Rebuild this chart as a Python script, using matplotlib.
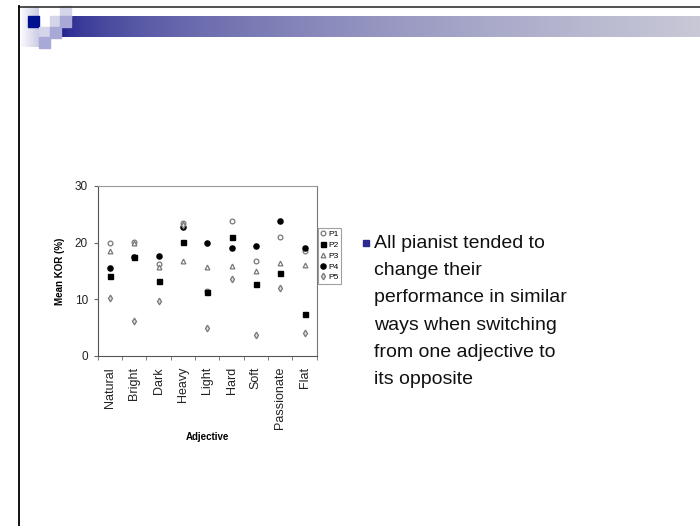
import matplotlib.pyplot as plt
import numpy as np

# data
adjectives = ['Natural', 'Bright', 'Dark', 'Heavy', 'Light', 'Hard', 'Soft', 'Passionate', 'Flat']
p1 = [19.9, 20.1, 16.3, 23.5, 11.5, 23.9, 16.7, 21.0, 18.5]
p2 = [14.2, 17.5, 13.3, 20.1, 11.3, 21.0, 12.7, 14.7, 7.4]
p3 = [18.6, 19.9, 15.7, 16.7, 15.7, 15.9, 15.0, 16.4, 16.1]
p4 = [15.6, 17.4, 17.6, 22.8, 19.9, 19.1, 19.5, 23.9, 19.1]
p5 = [10.3, 6.2, 9.7, 23.2, 4.9, 13.6, 3.7, 12.0, 4.0]
yticks = [0, 10, 20, 30]
bullet_lines = ['All pianist tended to', 'change their', 'performance in similar',
                'ways when switching', 'from one adjective to', 'its opposite']

W, H = 700, 526
fig = plt.figure(figsize=(W / 100, H / 100), dpi=100)
plt.rcParams['font.family'] = ['Liberation Sans', 'DejaVu Sans']

####### slide decoration #######
deco = fig.add_axes([0, 0, 1, 1], zorder=0)
deco.set_xlim(0, W)
deco.set_ylim(H, 0)
deco.axis('off')

# gradient bar
x0, x1 = 61, W
t = np.linspace(0, 1, 400) ** 0.5
c0 = np.array([28, 28, 140]) / 255
c1 = np.array([200, 200, 215]) / 255
grad = (c0[None, :] + t[:, None] * (c1 - c0)[None, :])[None, :, :]
deco.imshow(grad, extent=[x0, x1, 37, 16], aspect='auto', zorder=1)

# left pale block
t2 = np.linspace(0, 1, 50)
pale = (np.array([1, 1, 1])[None, :] + t2[:, None] * (np.array([0.80, 0.80, 0.90]) - 1)[None, :])[None, :, :]
deco.imshow(pale, extent=[19, 39, 47, 6], aspect='auto', zorder=1)

# little squares
light = '#D4D4EA'
mid = '#A9A9D8'
dark = '#001190'
squares = [(60, 6, light), (28, 16, dark), (50, 16, light), (60, 16, mid),
           (39, 27, light), (50, 27, mid), (39, 37, mid)]
for sx, sy, col in squares:
    deco.add_patch(plt.Rectangle((sx, sy), 10.7, 10.5, color=col, zorder=2))

deco.plot([19, W], [7, 7], color='#333333', lw=1.2, zorder=3)
deco.plot([19, 19], [6, H], color='black', lw=1.3, zorder=3)

# bullet text
deco.plot([366], [243], marker='s', ms=5, color='#2B2B8F', zorder=3)
for k, line in enumerate(bullet_lines):
    deco.text(374, 243 + 27.4 * k, line, fontsize=14, color='#111111',
              va='center', ha='left', family=['Liberation Sans', 'DejaVu Sans'])

####### scatter plot #######
ax = fig.add_axes([97.7 / W, (H - 356) / H, 219 / W, 170 / H], zorder=2)
xs = np.arange(len(adjectives)) + 0.5
gray = '#777777'
ax.plot(xs, p1, 'o', ms=3.4, mfc='white', mec=gray, mew=0.9, label='P1')
ax.plot(xs, p2, 's', ms=3.6, color='black', label='P2')
ax.plot(xs, p3, '^', ms=3.4, mfc='white', mec=gray, mew=0.9, label='P3')
ax.plot(xs, p4, 'o', ms=3.7, color='black', label='P4')
ax.plot(xs, p5, 'd', ms=3.4, mfc='#DDDDDD', mec=gray, mew=0.9, label='P5')

ax.set_xlim(0, len(adjectives))
ax.set_ylim(0, 30)
ax.set_yticks(yticks)
ax.set_xticks(xs)
ax.set_xticklabels(adjectives, rotation=90, fontsize=9)
ax.set_xticks(np.arange(len(adjectives) + 1), minor=True)
ax.tick_params(axis='x', which='major', length=0, pad=8, colors='#222222')
ax.tick_params(axis='x', which='minor', length=3, color='#666666')
ax.tick_params(axis='y', length=3, labelsize=8.5, color='#666666', labelcolor='#222222', pad=4)
ax.spines['left'].set_color('#555555')
ax.spines['bottom'].set_color('#555555')
ax.spines['top'].set_color('#999999')
ax.spines['right'].set_color('#777777')
ax.set_ylabel('Mean KOR (%)', fontsize=7, fontweight='bold', labelpad=7)
ax.set_xlabel('Adjective', fontsize=7, fontweight='bold', labelpad=2)

leg = ax.legend(loc='upper left', bbox_to_anchor=(318 / W, 1 - 228 / H),
                bbox_transform=fig.transFigure, fontsize=6, frameon=True,
                fancybox=False, edgecolor='#888888', handlelength=0.6,
                handletextpad=0.3, borderpad=0.3, labelspacing=0.35,
                borderaxespad=0)
leg.get_frame().set_linewidth(0.8)

plt.savefig('out.png', dpi=100)
